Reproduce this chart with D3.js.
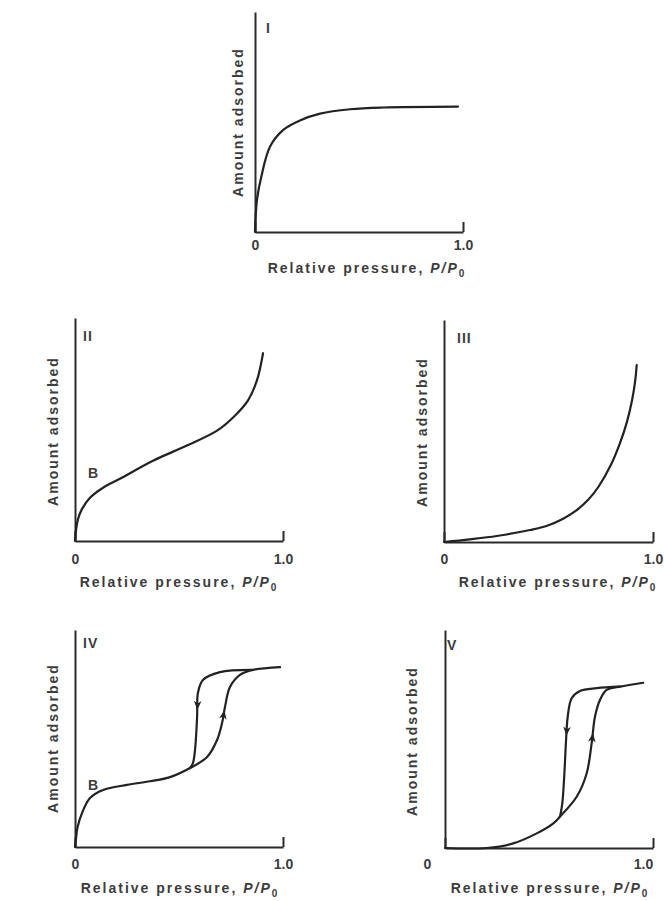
<!DOCTYPE html>
<html>
<head>
<meta charset="utf-8">
<script src="https://cdn.jsdelivr.net/npm/d3@7"></script>
<style>
  body { margin: 0; background: #fff; }
  svg { display: block; }
  text { font-family: "Liberation Sans", Arial, sans-serif; font-weight: bold; fill: #3c3c3c; }
</style>
</head>
<body>
<div id="chart"></div>
<script>
// Isotherm shapes: x = P/P0, y = share of the axis height
const xTicks = [0, 1];
const xTickLabels = ["0", "1.0"];
const yTitle = "Amount adsorbed";
const xTitle = "Relative pressure, ";

const typeI = [[0, 0], [0.003, 0.07], [0.01, 0.15], [0.03, 0.25], [0.072, 0.388], [0.136, 0.464],
  [0.216, 0.507], [0.313, 0.538], [0.457, 0.558], [0.615, 0.566], [0.976, 0.57]];

const typeII = [[0, 0], [0.005, 0.05], [0.015, 0.1], [0.034, 0.144], [0.072, 0.194], [0.135, 0.239],
  [0.216, 0.279], [0.375, 0.36], [0.538, 0.428], [0.683, 0.495], [0.76, 0.554], [0.832, 0.631],
  [0.875, 0.721], [0.904, 0.842]];

const typeIII = [[0, 0], [0.124, 0.012], [0.252, 0.027], [0.411, 0.054], [0.49, 0.072], [0.57, 0.105],
  [0.63, 0.14], [0.69, 0.19], [0.74, 0.25], [0.8, 0.35], [0.842, 0.445], [0.875, 0.54], [0.9, 0.64],
  [0.914, 0.72], [0.922, 0.797]];

const typeIVads = [[0, 0], [0.005, 0.04], [0.012, 0.09], [0.034, 0.157], [0.072, 0.226], [0.135, 0.263],
  [0.25, 0.286], [0.361, 0.303], [0.457, 0.322], [0.553, 0.364], [0.635, 0.415], [0.683, 0.493],
  [0.707, 0.571], [0.721, 0.645], [0.745, 0.737], [0.793, 0.793], [0.856, 0.816], [0.986, 0.829]];
const typeIVdes = [[0.856, 0.816], [0.697, 0.806], [0.615, 0.77], [0.591, 0.71], [0.587, 0.599],
  [0.577, 0.447], [0.567, 0.387], [0.553, 0.364]];

const typeVads = [[0, 0], [0.2, 0], [0.328, 0.021], [0.441, 0.067], [0.521, 0.113], [0.553, 0.144],
  [0.633, 0.235], [0.681, 0.342], [0.705, 0.48], [0.721, 0.602], [0.745, 0.679], [0.777, 0.725],
  [0.841, 0.74], [0.953, 0.758]];
const typeVdes = [[0.841, 0.74], [0.729, 0.733], [0.649, 0.72], [0.609, 0.687], [0.59, 0.602],
  [0.582, 0.495], [0.574, 0.343], [0.564, 0.205], [0.553, 0.144]];

// arrow heads: which line, which segment, how far along it
const typeIVarrows = [{ line: 0, seg: 12, t: 0.5 }, { line: 1, seg: 3, t: 0.5 }];
const typeVarrows = [{ line: 0, seg: 8, t: 0.2 }, { line: 1, seg: 4, t: 0.6 }];

// layout of each small chart on the page
const panels = [
  { name: "I", left: 255, right: 463, top: 12, bottom: 232, lines: [typeI], arrows: [],
    nameX: 266, nameY: 33, yTitleX: 238, yTitleY: 122, pad: 8, titleX: 367, titleY: 273 },
  { name: "II", left: 75, right: 283, top: 318, bottom: 541, lines: [typeII], arrows: [],
    nameX: 83, nameY: 341, yTitleX: 53, yTitleY: 431, pad: 13, titleX: 179, titleY: 587, b: [88, 478] },
  { name: "III", left: 444, right: 653, top: 320, bottom: 542, lines: [typeIII], arrows: [],
    nameX: 457, nameY: 343, yTitleX: 422, yTitleY: 432, pad: 12, titleX: 558, titleY: 587 },
  { name: "IV", left: 75, right: 283, top: 630, bottom: 847, lines: [typeIVads, typeIVdes], arrows: typeIVarrows,
    nameX: 83, nameY: 648, yTitleX: 53, yTitleY: 738, pad: 12, titleX: 180, titleY: 893, b: [88, 790] },
  { name: "V", left: 445, right: 653, top: 630, bottom: 848, lines: [typeVads, typeVdes], arrows: typeVarrows,
    nameX: 447, nameY: 650, yTitleX: 412, yTitleY: 741, pad: 11, titleX: 550, titleY: 893, labelShift: [-18, -10] }
];

const svg = d3.select("#chart")
  .append("svg")
  .attr("width", 664)
  .attr("height", 901);

panels.forEach((p) => {
  const g = svg.append("g");

  const x = d3.scaleLinear().domain([0, 1]).range([p.left, p.right]);
  const y = d3.scaleLinear().domain([0, 1]).range([p.bottom, p.top]);

  // x axis: only the end tick, pointing up
  const xAxis = g.append("g")
    .attr("transform", `translate(0,${p.bottom})`)
    .call(d3.axisBottom(x)
      .tickValues(xTicks)
      .tickFormat((d, i) => xTickLabels[i])
      .tickSizeInner(-10)
      .tickSizeOuter(0)
      .tickPadding(p.pad));
  xAxis.selectAll("text")
    .style("font-size", "14px")
    .attr("fill", "#3c3c3c")
    .attr("dx", (d, i) => (p.labelShift ? p.labelShift[i] : 0));

  // y axis, no ticks
  g.append("g")
    .attr("transform", `translate(${p.left},0)`)
    .call(d3.axisLeft(y).tickValues([]).tickSizeOuter(0));

  g.selectAll(".domain, .tick line")
    .attr("stroke", "#2b2b2b")
    .attr("stroke-width", 2);

  const line = d3.line()
    .x((d) => x(d[0]))
    .y((d) => y(d[1]))
    .curve(d3.curveCatmullRom.alpha(0.5));

  g.selectAll(".curve")
    .data(p.lines)
    .enter()
    .append("path")
    .attr("class", "curve")
    .attr("d", line)
    .attr("fill", "none")
    .attr("stroke", "#222")
    .attr("stroke-width", 2.2)
    .attr("stroke-linecap", "round");

  // arrow heads along the hysteresis branches
  p.arrows.forEach((a) => {
    const pts = p.lines[a.line];
    const s = pts[a.seg], e = pts[a.seg + 1];
    const px = x(s[0] + (e[0] - s[0]) * a.t);
    const py = y(s[1] + (e[1] - s[1]) * a.t);
    const ang = Math.atan2(y(e[1]) - y(s[1]), x(e[0]) - x(s[0])) * 180 / Math.PI;
    g.append("path")
      .attr("d", "M5,0L-4,-3.8L-1.5,0L-4,3.8Z")
      .attr("transform", `translate(${px},${py}) rotate(${ang})`)
      .attr("fill", "#222");
  });

  // roman numeral
  g.append("text")
    .attr("x", p.nameX)
    .attr("y", p.nameY)
    .style("font-size", "14px")
    .style("letter-spacing", "1px")
    .text(p.name);

  if (p.b) {
    g.append("text")
      .attr("x", p.b[0])
      .attr("y", p.b[1])
      .style("font-size", "14px")
      .text("B");
  }

  g.append("text")
    .attr("transform", `translate(${p.yTitleX},${p.yTitleY}) rotate(-90)`)
    .attr("text-anchor", "middle")
    .attr("dy", "0.36em")
    .style("font-size", "14px")
    .style("letter-spacing", "2px")
    .text(yTitle);

  const t = g.append("text")
    .attr("x", p.titleX)
    .attr("y", p.titleY)
    .attr("text-anchor", "middle")
    .style("font-size", "14px")
    .style("letter-spacing", "2px");
  t.append("tspan").text(xTitle);
  t.append("tspan").style("font-style", "italic").text("P/P");
  t.append("tspan").attr("dy", 4).style("font-size", "10px").text("0");
});
</script>
</body>
</html>
